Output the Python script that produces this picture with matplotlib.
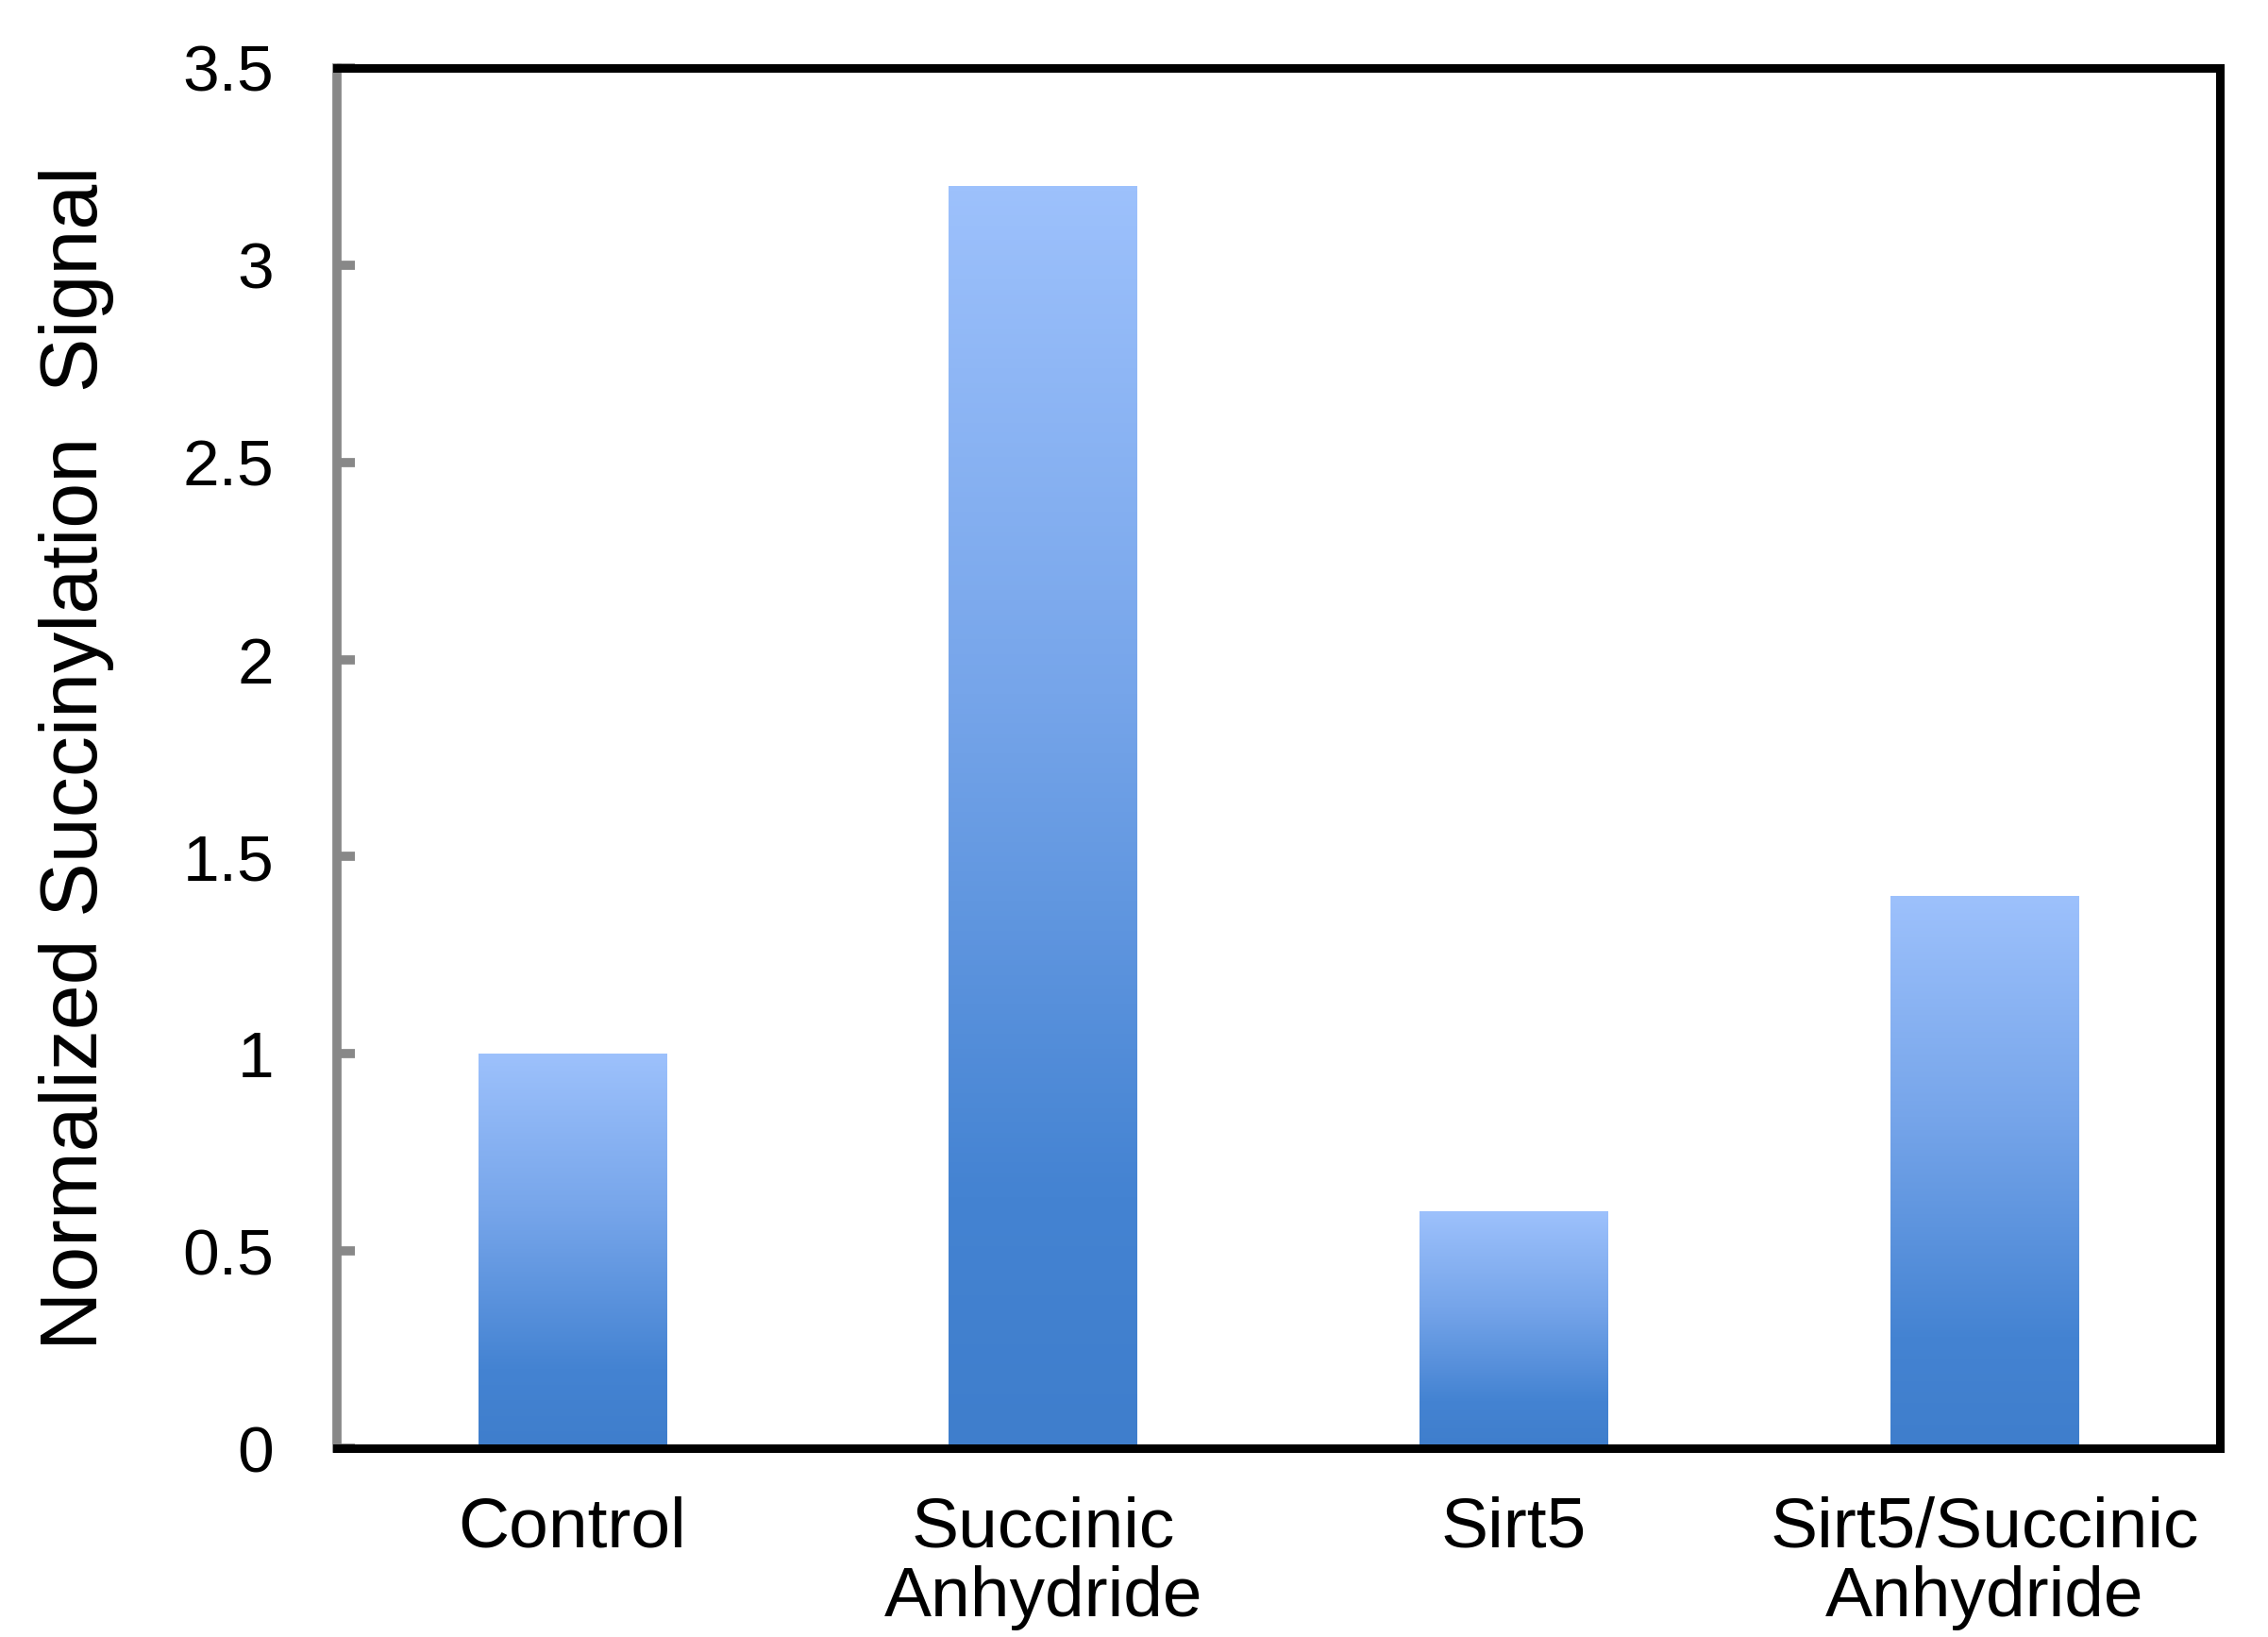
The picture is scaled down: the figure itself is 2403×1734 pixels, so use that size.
import numpy as np
import matplotlib
matplotlib.use("Agg")
import matplotlib.pyplot as plt
from matplotlib.colors import LinearSegmentedColormap

# data
categories = ["Control", "Succinic\nAnhydride", "Sirt5", "Sirt5/Succinic\nAnhydride"]
signal = [1.0, 3.2, 0.6, 1.4]

plt.rcParams['font.family'] = ['Liberation Sans', 'DejaVu Sans']

fig = plt.figure(figsize=(24.03, 17.34), dpi=100)
ax = fig.add_axes([0.1486, 0.1153, 0.8302, 0.8432])

# light at top, darker blue at the bottom of every bar
grad = LinearSegmentedColormap.from_list(
    "barblue", [(0.0, "#3f7ecc"), (0.2, "#4483d2"), (0.6, "#76a5ea"), (1.0, "#9dc1fc")])

x = np.arange(len(categories))
bars = ax.bar(x, signal, width=0.4, color="none", edgecolor="none")
ramp = np.linspace(0, 1, 256).reshape(-1, 1)
for b in bars:
    x0, y0 = b.get_x(), b.get_y()
    w, h = b.get_width(), b.get_height()
    im = ax.imshow(ramp, cmap=grad, origin="lower", aspect="auto",
                   extent=(x0, x0 + w, y0, y0 + h), zorder=2)
    im.set_clip_path(b)

ax.set_xlim(-0.5, len(categories) - 0.5)
ax.set_ylim(0, 3.5)
ax.set_yticks([0, 0.5, 1, 1.5, 2, 2.5, 3, 3.5])
ax.set_yticklabels(["0", "0.5", "1", "1.5", "2", "2.5", "3", "3.5"])
ax.set_xticks(x)
ax.set_xticklabels(categories, linespacing=1.1)

ax.tick_params(axis="y", direction="in", length=14, width=7, color="#888888",
               labelsize=50, pad=48)
ax.tick_params(axis="x", length=0, labelsize=54, pad=36)

for side in ["top", "right", "bottom"]:
    ax.spines[side].set_linewidth(6.5)
    ax.spines[side].set_color("black")
ax.spines["left"].set_linewidth(7)
ax.spines["left"].set_color("#888888")

ax.set_ylabel("Normalized Succinylation  Signal", fontsize=62, labelpad=52)

fig.savefig("out.png", dpi=100)
